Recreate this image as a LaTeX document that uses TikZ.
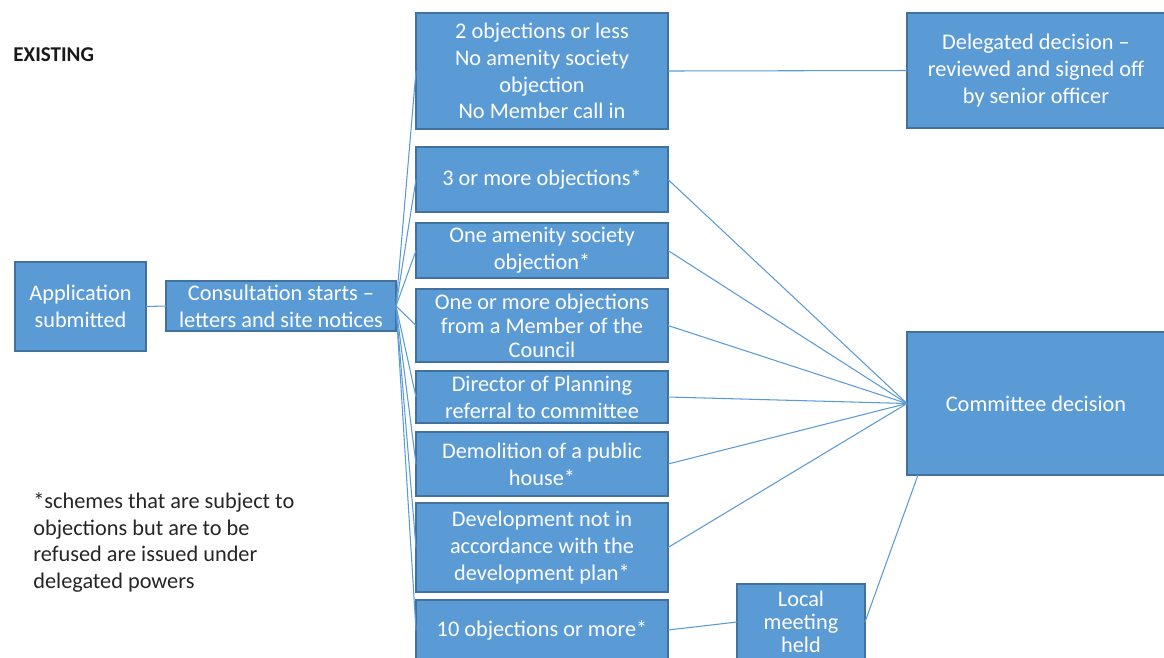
\documentclass[tikz,border=0pt]{standalone}
\usepackage{fontspec}
\setmainfont{Carlito}
\usetikzlibrary{calc}
\definecolor{boxfill}{HTML}{5B9BD5}
\definecolor{boxline}{HTML}{41719C}
\definecolor{connc}{HTML}{5B9BD5}
\def\pxu{0.02cm}
\begin{document}
\begin{tikzpicture}[x=0.02cm,y=-0.02cm,
  box/.style={draw=boxline, fill=boxfill, line width=0.8pt, text=white, align=center,
    inner sep=0pt, outer sep=0pt, font=\fontsize{12.7}{15.3}\selectfont},
  conn/.style={draw=connc, line width=0.6pt}]
\path[use as bounding box, fill=white] (0,0) rectangle (1164,657);
\clip (0,0) rectangle (1164,657);

\node[font=\bfseries\fontsize{12}{14}\selectfont, anchor=west, inner sep=0pt, text=black!90] (title) at (13,55) {EXISTING};

\node[box, minimum width={131*\pxu}, minimum height={89*\pxu}] (app) at (80.5,306.5) {Application\\submitted};
\node[box, minimum width={230*\pxu}, minimum height={50*\pxu}] (cons) at (281,306) {Consultation starts --\\letters and site notices};

\node[box, minimum width={252*\pxu}, minimum height={116*\pxu}] (b1) at (542,71) {2 objections or less\\No amenity society\\objection\\No Member call in};
\node[box, minimum width={252*\pxu}, minimum height={65*\pxu}] (b2) at (542,179.5) {3 or more objections*};
\node[box, minimum width={252*\pxu}, minimum height={55*\pxu}] (b3) at (542,250.5) {One amenity society\\objection*};
\node[box, minimum width={252*\pxu}, minimum height={73*\pxu}, font=\fontsize{12.7}{13.6}\selectfont] (b4) at (542,325.5) {One or more objections\\from a Member of the\\Council};
\node[box, minimum width={252*\pxu}, minimum height={52*\pxu}] (b5) at (542,397) {Director of Planning\\referral to committee};
\node[box, minimum width={252*\pxu}, minimum height={64*\pxu}] (b6) at (542,464) {Demolition of a public\\house*};
\node[box, minimum width={252*\pxu}, minimum height={89*\pxu}] (b7) at (542,547.5) {Development not in\\accordance with the\\development plan*};
\node[box, minimum width={252*\pxu}, minimum height={60*\pxu}] (b8) at (542,630) {10 objections or more*};

\node[box, minimum width={128*\pxu}, minimum height={76*\pxu}, font=\fontsize{12.7}{13.2}\selectfont] (local) at (801,622) {\raisebox{3pt}{\parbox{2cm}{\centering Local\\meeting\\held}}};

\node[box, minimum width={258*\pxu}, minimum height={115*\pxu}] (deleg) at (1036,70.5) {Delegated decision --\\reviewed and signed off\\by senior officer};
\node[box, minimum width={258*\pxu}, minimum height={143*\pxu}] (comm) at (1036,403.5) {Committee decision};

\node[anchor=north west, align=left, inner sep=0pt, text=black!85,
  font=\fontsize{12.7}{15.3}\selectfont] (note) at (33,492)
  {*schemes that are subject to\\objections but are to be\\refused are issued under\\delegated powers};

\draw[conn] (app.east) -- (cons.west);
\foreach \b in {b1,b2,b3,b4,b5,b6,b7,b8}
  \draw[conn] (cons.east) -- (\b.west);
\draw[conn] (b1.east) -- (deleg.west);
\foreach \b in {b2,b3,b4,b5,b6,b7}
  \draw[conn] (\b.east) -- (comm.west);
\draw[conn] (b8.east) -- (local.west);
\draw[conn] (local.east) -- ($(comm.south west)+(11,0)$);
\end{tikzpicture}
\end{document}
